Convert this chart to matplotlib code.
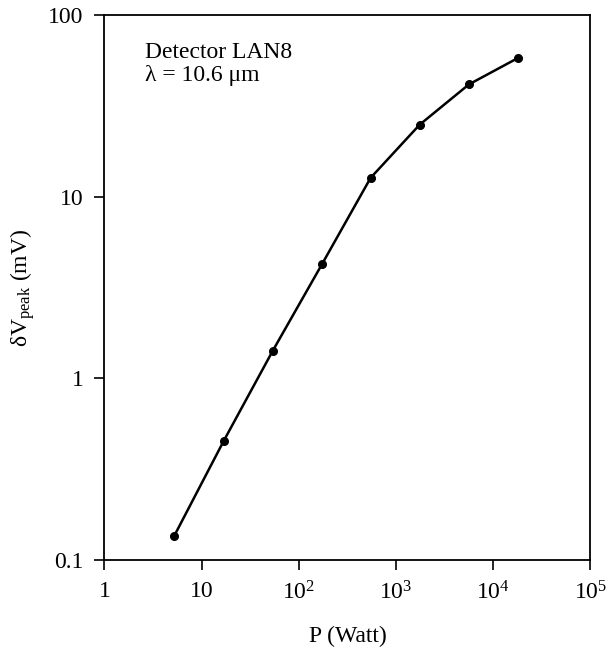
import matplotlib
matplotlib.use('Agg')
import matplotlib.pyplot as plt
from matplotlib.ticker import FixedLocator, FixedFormatter, NullLocator

plt.rcParams['font.family'] = ['Liberation Serif', 'DejaVu Serif']
plt.rcParams['mathtext.fontset'] = 'custom'
plt.rcParams['mathtext.rm'] = 'Liberation Serif'
plt.rcParams['mathtext.it'] = 'Liberation Serif:italic'

# Data
power = [5.2, 16.9, 54, 174, 548, 1750, 5620, 18070]
dv_peak = [0.135, 0.453, 1.42, 4.27, 12.7, 24.9, 41.5, 58.1]

x_ticks = [1, 10, 1e2, 1e3, 1e4, 1e5]
x_labels = ['1', '10', '10$^{2}$', '10$^{3}$', '10$^{4}$', '10$^{5}$']
y_ticks = [0.1, 1, 10, 100]
y_labels = ['0.1', '1', '10', '100']

fig = plt.figure(figsize=(6.07, 6.59), dpi=100)
ax = fig.add_axes([0.172, 0.1502, 0.8007, 0.827])

ax.plot(power, dv_peak, color='black', linewidth=1.8, marker='o', markersize=5.5)

ax.set_xscale('log')
ax.set_yscale('log')
ax.set_xlim(1, 1e5)
ax.set_ylim(0.1, 100)

ax.xaxis.set_major_locator(FixedLocator(x_ticks))
ax.xaxis.set_major_formatter(FixedFormatter(x_labels))
ax.xaxis.set_minor_locator(NullLocator())
ax.yaxis.set_major_locator(FixedLocator(y_ticks))
ax.yaxis.set_major_formatter(FixedFormatter(y_labels))
ax.yaxis.set_minor_locator(NullLocator())

ax.tick_params(direction='out', length=7, width=1.2, labelsize=17,
               top=False, right=False)
ax.tick_params(axis='x', pad=8)
ax.tick_params(axis='y', pad=8)
for s in ax.spines.values():
    s.set_linewidth(1.3)

ax.set_xlabel('P (Watt)', fontsize=17, labelpad=16)
ax.set_ylabel('δV$_{\\mathrm{peak}}$ (mV)', fontsize=17, labelpad=8)

ax.text(0.083, 0.95, 'Detector LAN8\nλ = 10.6 μm', transform=ax.transAxes,
        fontsize=17, va='top', ha='left', linespacing=1.1)

fig.savefig('out.png', dpi=100)
